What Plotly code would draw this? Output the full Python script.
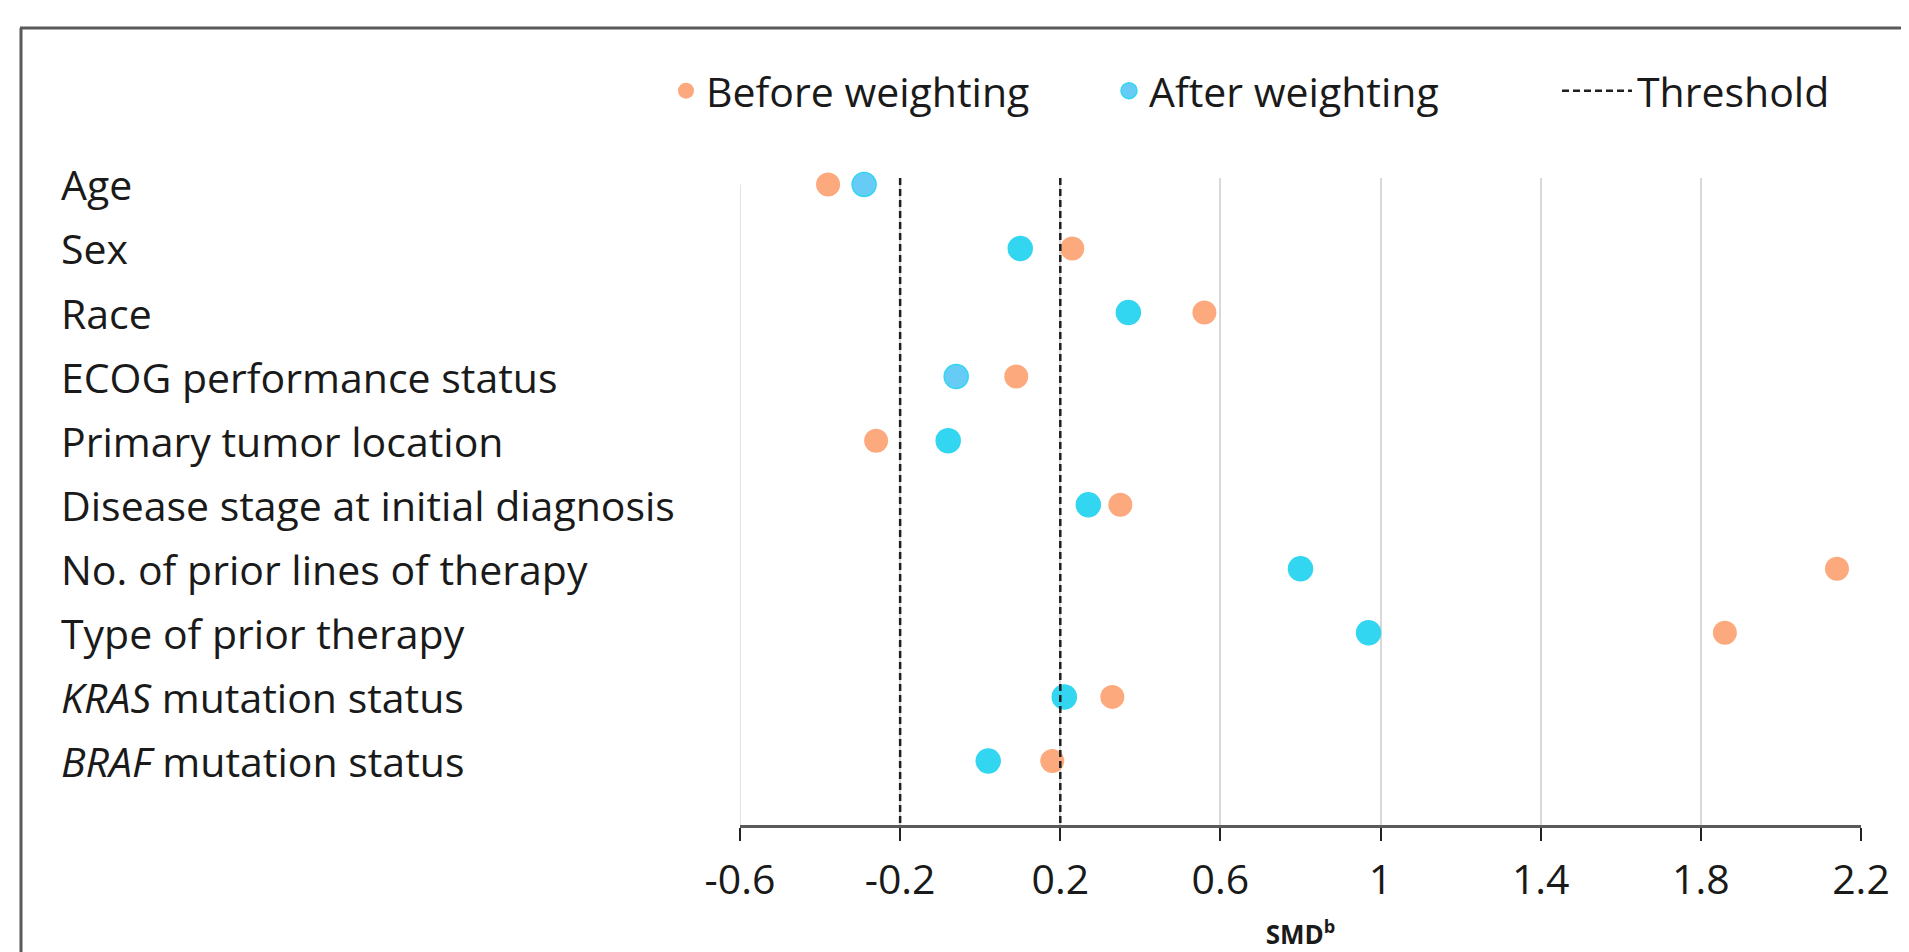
import plotly.graph_objects as go

CATEGORIES = [
    "Age",
    "Sex",
    "Race",
    "ECOG performance status",
    "Primary tumor location",
    "Disease stage at initial diagnosis",
    "No. of prior lines of therapy",
    "Type of prior therapy",
    "<i>KRAS</i> mutation status",
    "<i>BRAF</i> mutation status",
]
BEFORE = [-0.38, 0.23, 0.56, 0.09, -0.26, 0.35, 2.14, 1.86, 0.33, 0.18]
AFTER = [-0.29, 0.10, 0.37, -0.06, -0.08, 0.27, 0.80, 0.97, 0.21, 0.02]
THRESHOLDS = [-0.2, 0.2]
X_TICKS = [-0.6, -0.2, 0.2, 0.6, 1.0, 1.4, 1.8, 2.2]
X_TICK_TEXT = ["-0.6", "-0.2", "0.2", "0.6", "1", "1.4", "1.8", "2.2"]

ORANGE = "#FCA97E"
CYAN = "#33D6F0"
LIGHT = "#66CCF5"
FONT = "Open Sans"
FS = 41

OFF = 8  # browser body margin
W, H = 1909 - OFF, 952 - OFF
ML, MR, MT, MB = 732, 48, 170, 127
PW, PH = W - ML - MR, H - MT - MB


def px(xpage):
    return (xpage - OFF - ML) / PW


def py(ypage):
    return (H - MB - (ypage - OFF)) / PH


def cx(xpage):
    return (xpage - OFF) / W


def cy(ypage):
    return 1 - (ypage - OFF) / H


ypos = list(range(len(CATEGORIES)))
light_rows = {"Age", "ECOG performance status"}
after_fill = [LIGHT if c in light_rows else CYAN for c in CATEGORIES]

fig = go.Figure()
fig.add_trace(go.Scatter(
    x=BEFORE, y=ypos, mode="markers", name="Before weighting",
    marker=dict(color=ORANGE, size=24, line=dict(width=0)),
    legend="legend", showlegend=True, cliponaxis=False,
))
fig.add_trace(go.Scatter(
    x=AFTER, y=ypos, mode="markers", name="After weighting",
    marker=dict(color=after_fill, size=24, line=dict(width=1.5, color=CYAN)),
    legend="legend2", showlegend=True, cliponaxis=False,
))
tx, ty = [], []
for t in THRESHOLDS:
    tx += [t, t, None]
    ty += [-0.1, len(CATEGORIES), None]
fig.add_trace(go.Scatter(
    x=tx, y=ty, mode="lines", name="Threshold",
    line=dict(color="#1f1f1f", width=2.5, dash="7px,4px"),
    legend="legend3", showlegend=True, hoverinfo="skip",
))

annotations = []
for c, yv in zip(CATEGORIES, ypos):
    annotations.append(dict(
        x=px(59), xref="paper", y=yv, yref="y", text=c, showarrow=False,
        xanchor="left", yanchor="middle", font=dict(family=FONT, size=FS, color="#1a1a1a"),
    ))

shapes = [
    # light gridline at the left edge of the axis
    dict(type="line", xref="x", yref="paper", x0=X_TICKS[0], x1=X_TICKS[0], y0=0, y1=0.99,
         line=dict(color="#d9d9d9", width=1.5), layer="below"),
    # outer frame (left and top)
    dict(type="line", xref="paper", yref="paper", x0=px(21), x1=px(21), y0=py(1000), y1=py(28),
         line=dict(color="#5a5a5a", width=3)),
    dict(type="line", xref="paper", yref="paper", x0=px(20), x1=px(1950), y0=py(28), y1=py(28),
         line=dict(color="#5a5a5a", width=3)),
]

legend_common = dict(
    orientation="h", yanchor="middle", xanchor="left",
    xref="container", yref="container", y=cy(91),
    bgcolor="rgba(0,0,0,0)", font=dict(family=FONT, size=FS, color="#1a1a1a"),
    itemsizing="trace", visible=True,
)

fig.update_layout(
    width=W, height=H,
    showlegend=True,
    margin=dict(l=ML, r=MR, t=MT, b=MB, autoexpand=False),
    paper_bgcolor="white", plot_bgcolor="white",
    font=dict(family=FONT, size=FS, color="#1a1a1a"),
    annotations=annotations,
    shapes=shapes,
    legend=dict(x=cx(666), **legend_common),
    legend2=dict(x=cx(1109), **legend_common),
    legend3=dict(x=cx(1557), itemwidth=70, **legend_common),
    xaxis=dict(
        range=[-0.6, 2.2], tickvals=X_TICKS, ticktext=X_TICK_TEXT,
        showgrid=True, gridcolor="#d9d9d9", gridwidth=1.5, zeroline=False,
        showline=True, linecolor="#5a5a5a", linewidth=3,
        ticks="outside", ticklen=13, tickwidth=2, tickcolor="#222222",
        ticklabelstandoff=4,
        tickfont=dict(family=FONT, size=FS, color="#1a1a1a"),
        title=dict(text="<b>SMD<sup>b</sup></b>", font=dict(family=FONT, size=26, color="#1a1a1a"), standoff=22),
    ),
    yaxis=dict(
        range=[len(CATEGORIES), -0.1], showgrid=False, zeroline=False,
        showticklabels=False, showline=False,
    ),
)

fig.write_html("out.html")
